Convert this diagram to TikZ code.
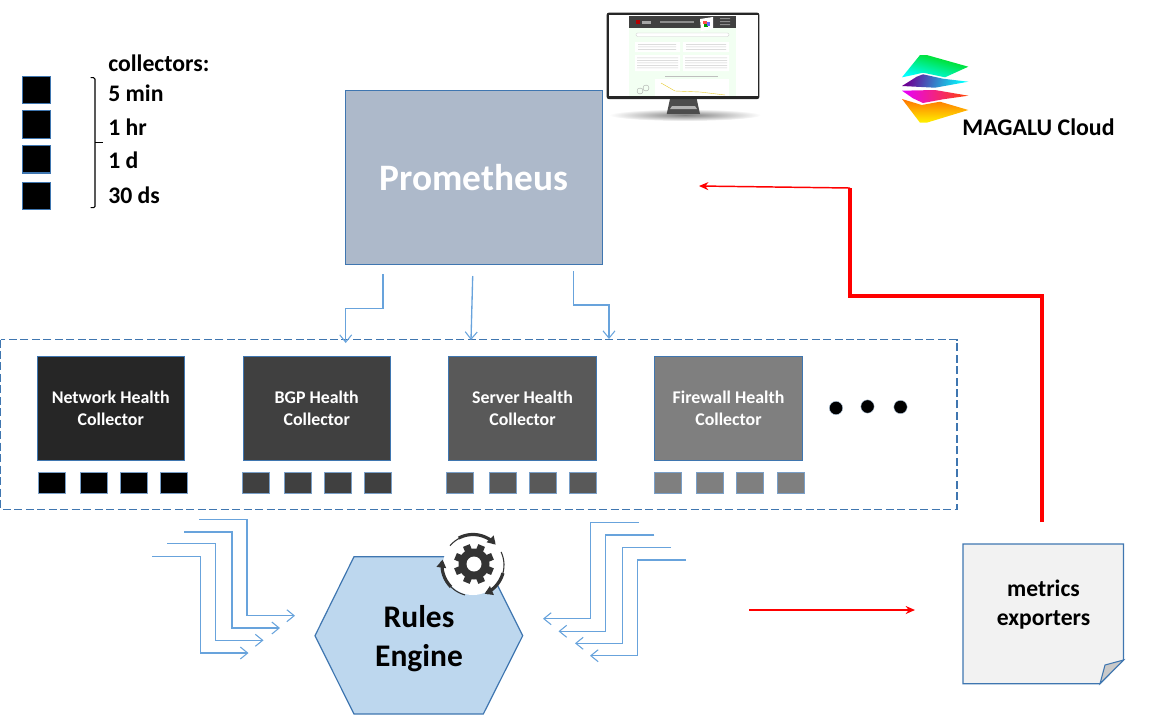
\documentclass[tikz,border=0pt]{standalone}
\usepackage{fontspec}
\setmainfont{Carlito}
\usetikzlibrary{arrows.meta,shadings}
\definecolor{edgeblue}{HTML}{3F76B0}
\definecolor{linkblue}{HTML}{68A3DC}
\definecolor{promfill}{HTML}{ADB9CA}
\definecolor{hexfill}{HTML}{BDD7EE}
\definecolor{notefill}{HTML}{F2F2F2}
\definecolor{foldfill}{HTML}{C9C9C9}
\definecolor{gearcol}{HTML}{333333}
\definecolor{c1}{HTML}{262626}
\definecolor{c2}{HTML}{404040}
\definecolor{c3}{HTML}{595959}
\definecolor{c4}{HTML}{7F7F7F}
\newcommand\txtsize[2]{\fontsize{#1}{#2}\selectfont\bfseries}
\tikzset{
  collector/.style={draw=edgeblue,line width=0.8pt,inner sep=0pt,minimum width=110.4pt,minimum height=78pt,align=center,text=white,font=\txtsize{13.4}{16.5}},
  tinybox/.style={draw=edgeblue!70!white,line width=0.7pt,inner sep=0pt,minimum width=20.3pt,minimum height=15.5pt},
  legendbox/.style={draw=edgeblue,fill=black,line width=0.8pt,inner sep=0pt,minimum width=21pt,minimum height=20.5pt},
  legendtext/.style={anchor=west,inner sep=0pt,font=\txtsize{17.8}{20}},
  link/.style={draw=linkblue,line width=1pt,-{Straight Barb[length=5.5pt,width=9pt,line width=0.8pt]}},
  redthin/.style={draw=red,line width=1.1pt,-{Stealth[length=7pt,width=6pt]}},
  redthick/.style={draw=red,line width=2.6pt},
  dot/.style={circle,fill=black,draw=edgeblue!40!white,line width=0.3pt,inner sep=0pt,minimum size=10pt},
  gearline/.style={draw=gearcol,line cap=butt},
}
\begin{document}
\begin{tikzpicture}[x=0.75pt,y=-0.75pt]
\useasboundingbox (0,0) rectangle (1159,715);

% ---- monitor
\shade[inner color=black!50,outer color=white,draw=none] (685,115) ellipse[x radius=76,y radius=6];
\fill[black!70] (670,99) -- (696.7,99) -- (700,114) -- (666.7,114) -- cycle;
\fill[black!30] (672,106) -- (695,106) -- (697,109) -- (670,109) -- cycle;
\fill[black!85,rounded corners=1.5pt] (606.7,12.7) rectangle (759.3,99);
\fill[white] (608.5,15) rectangle (757.5,96);
\fill[green!5!white] (629,15.7) rectangle (736,96);
\fill[black!75] (629,15.7) rectangle (736,28.3);
\fill[red!70!black] (636,20) rectangle (640,24);
\fill[black!35] (642,20.5) rectangle (651,23.5);
\fill[black!45] (660,20.5) rectangle (694,23);
\fill[white] (700,19) -- (713,17) -- (713,29) -- (701,31) -- cycle;
\fill[red!70] (703,21) rectangle (707,24);
\fill[green!60!black] (704,24) rectangle (708,27);
\fill[blue!60] (707,22) rectangle (710,26);
\fill[black!45] (720,18) rectangle (730,19) (720,21) rectangle (730,22) (720,24) rectangle (730,25);
\fill[white,draw=black!20,line width=0.2pt,rounded corners=1pt] (636,33) rectangle (729,36.5);
\fill[white] (635,42) rectangle (680,52) (683,42) rectangle (729,52);
\fill[white] (635,55) rectangle (680,71) (683,55) rectangle (729,71);
\fill[white] (655,79) rectangle (729,96);
\foreach \yy in {44,46.5,49}{\fill[black!20] (638,\yy) rectangle (676,\yy+0.6) (686,\yy) rectangle (726,\yy+0.6);}
\foreach \yy in {57.5,60,62.5,65,67.5}{\fill[black!20] (637,\yy) rectangle (678,\yy+0.6) (685,\yy) rectangle (727,\yy+0.6);}
\fill[black!25] (665,75.5) rectangle (718,76.3);
\draw[yellow!60!brown,line width=0.3pt] (661,83) -- (675,91) -- (700,92) -- (725,95);
\draw[black!35,line width=0.3pt] (640,91) circle[radius=3] (646,88) circle[radius=3];

% ---- logo
\shade[top color=green!85!black,middle color=green!85!cyan,bottom color=cyan,shading angle=-15,draw=none] (902,77.3) -- (920,55) -- (926.7,55) -- (968.3,66.7) -- (945,77.3) -- (923,72.7) -- (913,75) -- cycle;
\shade[left color=violet!85!blue,right color=cyan,shading angle=75,draw=none] (902,86) -- (916.7,76.7) -- (923,74.3) -- (943,78.7) -- (968.3,81.7) -- (935,87.7) -- cycle;
\shade[left color=magenta!90!blue,right color=orange!55!red,draw=none] (902,90.7) -- (935,90) -- (968.3,95.7) -- (943,99.3) -- (923,103) -- (913,98.3) -- cycle;
\shade[top color=orange!90!red,bottom color=yellow!90!orange,draw=none] (902,99) -- (921.7,105) -- (940,101.7) -- (968.3,110) -- (926.7,122.7) -- (920,122.7) -- cycle;
\node[anchor=center,inner sep=0pt,font=\txtsize{17.9}{20}] (magalu) at (1038.5,127.5) {MAGALU Cloud};

% ---- legend
\node[legendbox] (l1) at (36.5,89.7) {};
\node[legendbox] (l2) at (36.5,124.5) {};
\node[legendbox] (l3) at (36.5,159.3) {};
\node[legendbox] (l4) at (36.5,196) {};
\draw[line width=0.8pt,rounded corners=1pt] (90.7,77.7) -- (95,77.7) -- (95,207.7) -- (90.7,207.7);
\draw[line width=0.8pt] (95,142.7) -- (103.3,142.7);
\node[legendtext] (t0) at (108,63) {collectors:};
\node[legendtext] (t1) at (108,93.5) {5 min};
\node[legendtext] (t2) at (108,127.5) {1 hr};
\node[legendtext] (t3) at (108,160) {1 d};
\node[legendtext] (t4) at (108,195) {30 ds};

% ---- prometheus
\node[draw=edgeblue,fill=promfill,line width=0.8pt,inner sep=0pt,minimum width=193pt,minimum height=130pt,text=white,font=\txtsize{28}{32}] (prom) at (474,177.5) {Prometheus};

% ---- collectors frame
\draw[edgeblue,line width=0.8pt,dash pattern=on 6pt off 2.6pt] (0.7,339.5) rectangle (957,509.3);
\node[dot] (d1) at (836,408) {};
\node[dot] (d2) at (867.5,406.5) {};
\node[dot] (d3) at (900.5,407) {};

\node[collector,fill=c1] (net) at (110.7,408.3) {Network Health\\Collector};
\node[collector,fill=c2] (bgp) at (316.7,408.3) {BGP Health\\Collector};
\node[collector,fill=c3] (srv) at (522.5,408.3) {Server Health\\Collector};
\node[collector,fill=c4] (fw) at (728.5,408.3) {Firewall Health\\Collector};

\foreach \n/\xx/\cc in {a1/51.5/black,a2/94/black,a3/134/black,a4/174/black,
  b1/255.7/c2,b2/298.3/c2,b3/338.3/c2,b4/378.2/c2,
  c1/460.2/c3,c2/502.5/c3,c3/542.5/c3,c4/582.5/c3,
  e1/667.5/c4,e2/709.5/c4,e3/749.5/c4,e4/790.5/c4}{
  \node[tinybox,fill=\cc] (sq\n) at (\xx,483) {};
}

% ---- prometheus to collectors
\coordinate (p1s) at (383,274);
\coordinate (p1e) at (345.7,343);
\coordinate (p2s) at (472.7,276);
\coordinate (p2e) at (471,340);
\coordinate (p3s) at (573.7,271);
\coordinate (p3e) at (609,339);
\draw[link] (p1s) -- (383,308.7) -- (345.7,308.7) -- (p1e);
\draw[link] (p2s) -- (p2e);
\draw[link] (p3s) -- (573.7,305) -- (609,305) -- (p3e);

% ---- rules engine
\path[draw=edgeblue,fill=hexfill,line width=0.9pt] (315,635.7) coordinate (h1) -- (354,556.7) -- (483.3,556.7) -- (522.7,635.7) -- (483.3,714) -- (354,714) -- cycle;
\node[inner sep=0pt,align=center,font=\txtsize{23.6}{29.5}] (rules) at (419,638.5) {Rules\\Engine};

% ---- gear
\fill[white] (473,565) circle[radius=30];
\fill[gearcol] (474,564) circle[radius=15.5];
\foreach \a in {0,45,...,315}{
  \fill[gearcol,shift={(474,564)},rotate=\a+22.5] (-3.6,-20) rectangle (3.6,-12);
}
\fill[white] (474,564) circle[radius=7.5];
\draw[gearline,line width=0.8pt] plot[domain=140:118,samples=6] ({473+30*cos(\x)},{565-30*sin(\x)});
\draw[gearline,line width=2.4pt,-{Triangle[length=6pt,width=7pt]}] plot[domain=118:42,samples=20] ({473+30.5*cos(\x)},{565-30.5*sin(\x)});
\draw[gearline,line width=0.8pt] plot[domain=25:-15,samples=8] ({473+31*cos(\x)},{565-31*sin(\x)});
\draw[gearline,line width=2.4pt,-{Triangle[length=6pt,width=7pt]}] plot[domain=-15:-68,samples=14] ({473+31*cos(\x)},{565-31*sin(\x)});
\draw[gearline,line width=0.8pt] plot[domain=255:225,samples=8] ({473+31*cos(\x)},{565-31*sin(\x)});
\draw[gearline,line width=2.4pt,-{Triangle[length=6pt,width=7pt]}] plot[domain=225:170,samples=14] ({473+31*cos(\x)},{565-31*sin(\x)});

% ---- input arrows
\foreach \n/\xa/\ya/\xb/\yb/\xc in {
  i1/199/519.3/247/615.7/295,
  i2/184/532/232/628/280,
  i3/167.3/543.7/215.7/640.3/263.5,
  i4/152.3/556.7/200.7/653/248.5}{
  \coordinate (\n s) at (\xa,\ya);
  \coordinate (\n e) at (\xc,\yb);
  \draw[link] (\n s) -- (\xb,\ya) -- (\xb,\yb) -- (\n e);
}
\foreach \n/\xa/\ya/\xb/\yb/\xc in {
  o1/639/522.7/590.7/618.7/543,
  o2/654.3/535/605.7/631.3/558.5,
  o3/671/547.3/622.7/643.3/575,
  o4/686/560/637.7/655.7/590}{
  \coordinate (\n s) at (\xa,\ya);
  \coordinate (\n e) at (\xc,\yb);
  \draw[link] (\n s) -- (\xb,\ya) -- (\xb,\yb) -- (\n e);
}

% ---- metrics exporters note
\path[draw=edgeblue,fill=notefill,line width=0.9pt] (963,544) -- (1123.5,544) -- (1123.5,660) -- (1100,683.7) -- (963,683.7) -- cycle;
\path[draw=edgeblue,fill=foldfill,line width=0.8pt] (1123.5,660) -- (1105,665) -- (1100,683.7) -- cycle;
\node[inner sep=0pt,align=center,font=\txtsize{17.7}{22}] (note) at (1043.5,604.5) {metrics\\exporters};

% ---- red connectors
\coordinate (rs) at (1042,522);
\coordinate (rc) at (850,188);
\coordinate (re) at (699,186);
\coordinate (rb1) at (749,610);
\coordinate (rb2) at (915,610);
\draw[redthick] (rs) -- (1042,296) -- (850,296) -- (rc);
\draw[redthin] (rc) -- (re);
\draw[redthin] (rb1) -- (rb2);
\end{tikzpicture}
\end{document}
